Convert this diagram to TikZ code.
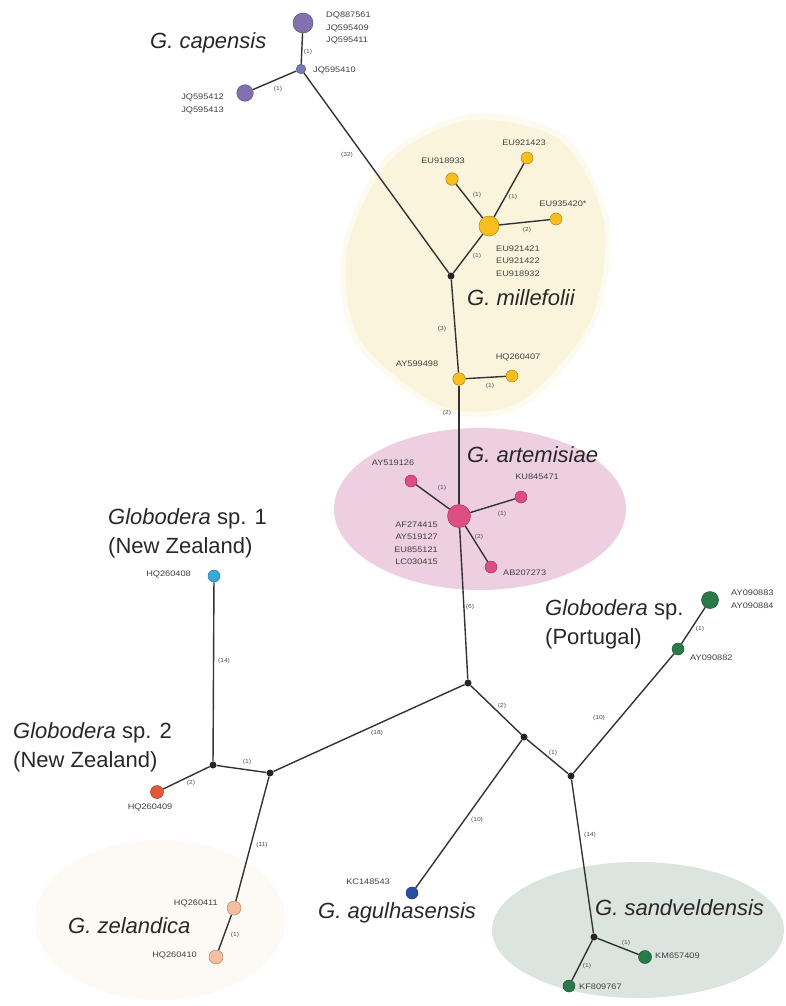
\documentclass[tikz,border=0pt]{standalone}
\usepackage{fontspec}
\setmainfont{Liberation Sans}
\newfontfamily\labfont[FakeStretch=1.15]{Liberation Sans}
\definecolor{cpurple}{RGB}{130,112,175}
\definecolor{cpurpleb}{RGB}{120,120,185}
\definecolor{cyellow}{RGB}{247,190,30}
\definecolor{cpink}{RGB}{222,78,130}
\definecolor{ccyan}{RGB}{55,170,220}
\definecolor{cred}{RGB}{228,88,58}
\definecolor{cpeach}{RGB}{244,190,160}
\definecolor{cblue}{RGB}{40,80,160}
\definecolor{cgreen}{RGB}{40,122,72}
\definecolor{bgyellow}{RGB}{251,244,220}
\definecolor{bgpink}{RGB}{237,207,225}
\definecolor{bggreen}{RGB}{220,228,224}
\definecolor{bgpeach}{RGB}{253,249,244}
\definecolor{txt}{RGB}{40,40,40}
\pgfdeclarelayer{blobs}
\pgfdeclarelayer{edges}
\pgfsetlayers{blobs,edges,main}
\tikzset{
  hap/.style 2 args={circle,inner sep=0pt,minimum size=#2,fill=#1,draw=#1!70!black,line width=0.5pt},
  junc/.style={circle,inner sep=0pt,minimum size=7pt,fill=black!85},
  edge/.style={draw=black!80,line width=1.4pt},
  lab/.style={font=\labfont\fontsize{8}{12.5}\selectfont,text=black!75,inner sep=0pt,align=left},
  labr/.style={lab,align=right},
  mut/.style={font=\labfont\fontsize{5.8}{6}\selectfont,text=black!70,inner sep=0pt},
  spec/.style={font=\fontsize{22}{29}\selectfont,text=txt,inner sep=0pt,align=left,anchor=west},
}
\begin{document}
\begin{tikzpicture}[x=1pt,y=-1pt]
\useasboundingbox (0,0) rectangle (785,1006);

% haplotype nodes
\node[hap={cpurple}{20pt}] (cap1) at (303,23) {};
\node[hap={cpurpleb}{9.5pt}] (cap2) at (301,69) {};
\node[hap={cpurple}{16.5pt}] (cap3) at (245,93) {};
\node[junc] (mj) at (451,276) {};
\node[hap={cyellow}{20pt}] (mil1) at (489,226) {};
\node[hap={cyellow}{12.5pt}] (mil2) at (452,179) {};
\node[hap={cyellow}{12pt}] (mil3) at (527,158) {};
\node[hap={cyellow}{12pt}] (mil4) at (556,219) {};
\node[hap={cyellow}{12.5pt}] (mil5) at (459,379) {};
\node[hap={cyellow}{12pt}] (mil6) at (512,376) {};
\node[hap={cpink}{23pt}] (art1) at (459,516) {};
\node[hap={cpink}{12pt}] (art2) at (411,481) {};
\node[hap={cpink}{12pt}] (art3) at (521,497) {};
\node[hap={cpink}{12pt}] (art4) at (491,567) {};
\node[junc] (cj) at (468,683) {};
\node[junc] (j2) at (524,737) {};
\node[junc] (j3) at (571,776) {};
\node[hap={ccyan}{12pt}] (nz1) at (214,576) {};
\node[junc] (nzj) at (213,765) {};
\node[junc] (nzj2) at (270,773) {};
\node[hap={cred}{13pt}] (nz2) at (157,792) {};
\node[hap={cpeach}{14pt}] (zel1) at (234,908) {};
\node[hap={cpeach}{14pt}] (zel2) at (216,957) {};
\node[hap={cblue}{12pt}] (agu) at (412,893) {};
\node[hap={cgreen}{12pt}] (por1) at (678,649) {};
\node[hap={cgreen}{17pt}] (por2) at (710,600) {};
\node[junc] (sj) at (594,937) {};
\node[hap={cgreen}{13pt}] (san1) at (645,957) {};
\node[hap={cgreen}{12pt}] (san2) at (569,986) {};

% background groups
\begin{pgfonlayer}{blobs}
  \fill[bgyellow!45] plot[smooth cycle] coordinates {(470,114) (563,134) (609,221) (595,324) (523,407) (441,411) (355,343) (342,250) (385,157)};
  \fill[bgyellow] plot[smooth cycle] coordinates {(470,120) (560,140) (604,222) (590,322) (520,402) (442,406) (360,340) (347,250) (390,160)};
  \fill[bgpink] (480,509) ellipse [x radius=146pt, y radius=81pt];
  \fill[bggreen] (638,930) ellipse [x radius=146pt, y radius=68pt];
  \fill[bgpeach] (160,920) ellipse [x radius=125pt, y radius=80pt];
\end{pgfonlayer}

% connectors
\begin{pgfonlayer}{edges}
  \draw[edge] (cap1) -- (cap2);
  \draw[edge] (cap2) -- (cap3);
  \draw[edge] (cap2) -- (mj);
  \draw[edge] (mj) -- (mil1);
  \draw[edge] (mil1) -- (mil2);
  \draw[edge] (mil1) -- (mil3);
  \draw[edge] (mil1) -- (mil4);
  \draw[edge] (mj) -- (mil5);
  \draw[edge] (mil5) -- (mil6);
  \draw[edge] (mil5) -- (art1);
  \draw[edge] (art1) -- (art2);
  \draw[edge] (art1) -- (art3);
  \draw[edge] (art1) -- (art4);
  \draw[edge] (art1) -- (cj);
  \draw[edge] (cj) -- (nzj2);
  \draw[edge] (nzj2) -- (nzj);
  \draw[edge] (nzj) -- (nz1);
  \draw[edge] (nzj) -- (nz2);
  \draw[edge] (nzj2) -- (zel1);
  \draw[edge] (zel1) -- (zel2);
  \draw[edge] (cj) -- (j2);
  \draw[edge] (j2) -- (agu);
  \draw[edge] (j2) -- (j3);
  \draw[edge] (j3) -- (por1);
  \draw[edge] (por1) -- (por2);
  \draw[edge] (j3) -- (sj);
  \draw[edge] (sj) -- (san1);
  \draw[edge] (sj) -- (san2);
\end{pgfonlayer}

% mutation counts
\node[mut] (e1) at (308,52) {(1)};
\node[mut] (e2) at (278,89) {(1)};
\node[mut] (e3) at (347,155) {(32)};
\node[mut] (e4) at (477,195) {(1)};
\node[mut] (e5) at (513,197) {(1)};
\node[mut] (e6) at (527,230) {(2)};
\node[mut] (e7) at (477,256) {(1)};
\node[mut] (e8) at (442,329) {(3)};
\node[mut] (e9) at (490,386) {(1)};
\node[mut] (e10) at (447,413) {(2)};
\node[mut] (e11) at (442,488) {(1)};
\node[mut] (e12) at (502,514) {(1)};
\node[mut] (e13) at (479,537) {(2)};
\node[mut] (e14) at (470,607) {(6)};
\node[mut] (e15) at (224,661) {(14)};
\node[mut] (e16) at (191,783) {(2)};
\node[mut] (e17) at (247,762) {(1)};
\node[mut] (e18) at (377,733) {(18)};
\node[mut] (e19) at (502,706) {(2)};
\node[mut] (e20) at (553,753) {(1)};
\node[mut] (e21) at (477,820) {(10)};
\node[mut] (e22) at (590,835) {(14)};
\node[mut] (e23) at (262,845) {(11)};
\node[mut] (e24) at (235,935) {(1)};
\node[mut] (e25) at (700,629) {(1)};
\node[mut] (e26) at (599,718) {(10)};
\node[mut] (e27) at (626,943) {(1)};
\node[mut] (e28) at (587,966) {(1)};

% haplotype labels
\node[lab,anchor=west] (l1) at (326,28) {DQ887561\\JQ595409\\JQ595411};
\node[lab,anchor=west] (l2) at (313,70) {JQ595410};
\node[labr,anchor=east] (l3) at (224,104) {JQ595412\\JQ595413};
\node[lab] (l4) at (443,161) {EU918933};
\node[lab] (l5) at (524,143) {EU921423};
\node[lab] (l6) at (563,204) {EU935420*};
\node[lab,anchor=west] (l7) at (496,261) {EU921421\\EU921422\\EU918932};
\node[lab] (l8) at (417,364) {AY599498};
\node[lab] (l9) at (518,357) {HQ260407};
\node[lab] (l10) at (393,463) {AY519126};
\node[lab] (l11) at (537,477) {KU845471};
\node[labr,anchor=east] (l12) at (438,543) {AF274415\\AY519127\\EU855121\\LC030415};
\node[lab,anchor=west] (l13) at (503,573) {AB207273};
\node[lab,anchor=east] (l14) at (191,574) {HQ260408};
\node[lab] (l15) at (150,807) {HQ260409};
\node[lab,anchor=east] (l16) at (218,903) {HQ260411};
\node[lab,anchor=east] (l17) at (197,955) {HQ260410};
\node[lab] (l18) at (368,882) {KC148543};
\node[lab,anchor=west] (l19) at (731,599) {AY090883\\AY090884};
\node[lab,anchor=west] (l20) at (690,658) {AY090882};
\node[lab,anchor=west] (l21) at (655,956) {KM657409};
\node[lab,anchor=west] (l22) at (579,987) {KF809767};

% species names
\node[spec] (s1) at (150,43) {\textit{G. capensis}};
\node[spec] (s2) at (467,298) {\textit{G. millefolii}};
\node[spec] (s3) at (467,455) {\textit{G. artemisiae}};
\node[spec] (s4) at (108,533) {\textit{Globodera} sp. 1\\(New Zealand)};
\node[spec] (s5) at (13,747) {\textit{Globodera} sp. 2\\(New Zealand)};
\node[spec] (s6) at (545,624) {\textit{Globodera} sp.\\(Portugal)};
\node[spec] (s7) at (68,926) {\textit{G. zelandica}};
\node[spec] (s8) at (318,913) {\textit{G. agulhasensis}};
\node[spec] (s9) at (595,908) {\textit{G. sandveldensis}};
\end{tikzpicture}
\end{document}
